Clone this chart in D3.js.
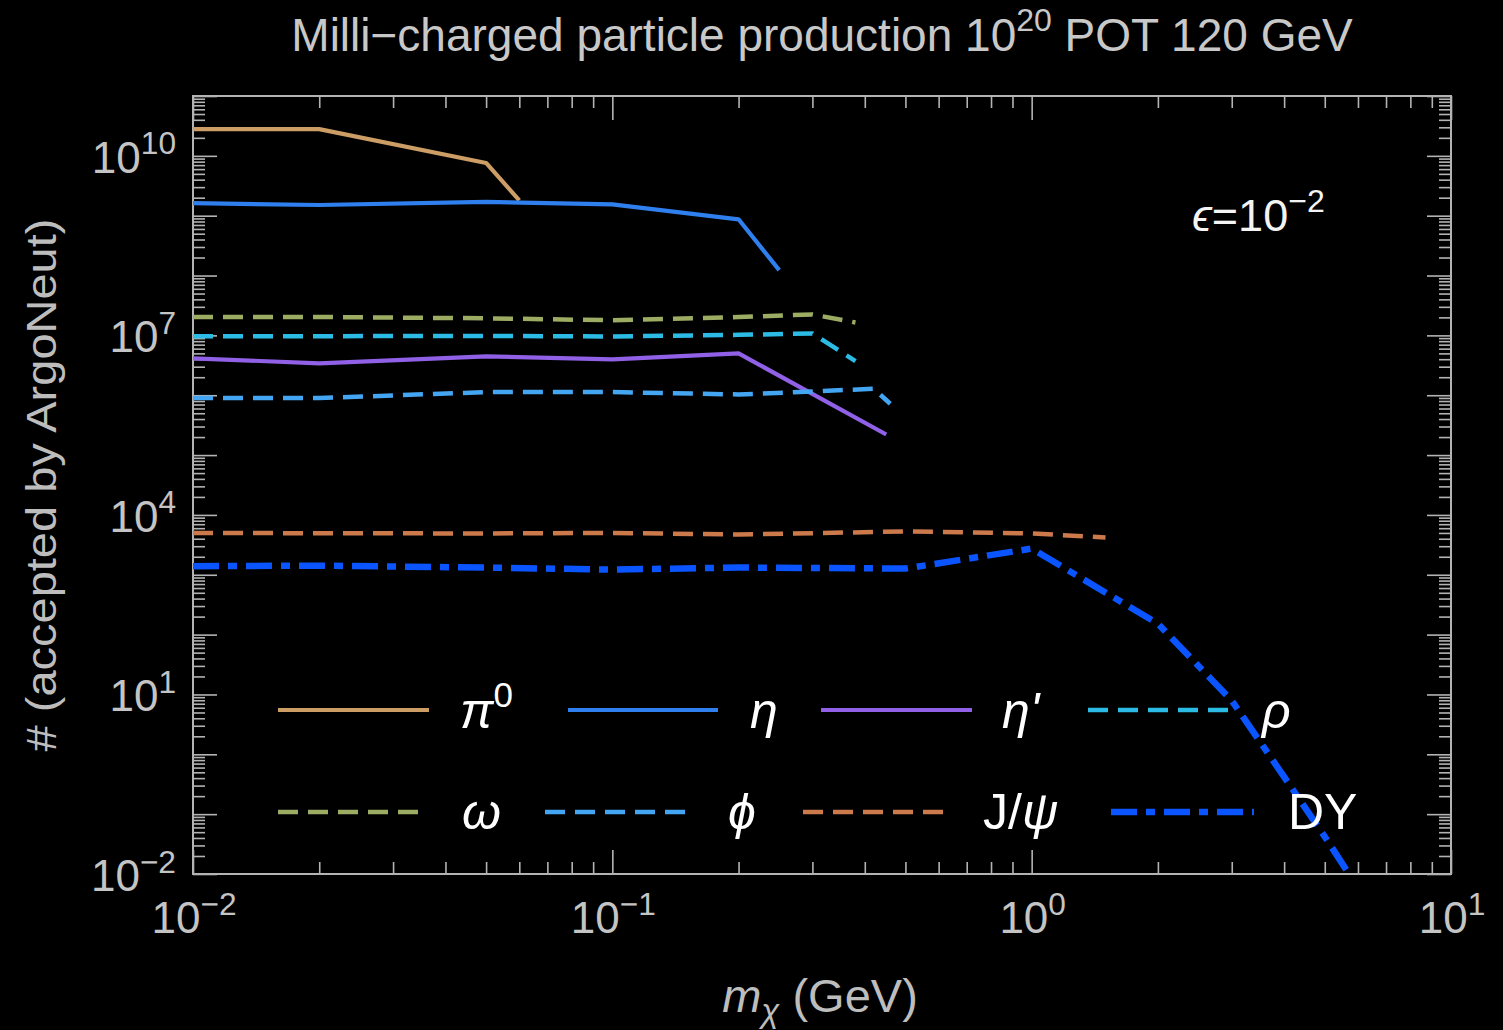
<!DOCTYPE html>
<html><head><meta charset="utf-8">
<script src="https://cdn.jsdelivr.net/npm/d3@7"></script>
<style>html,body{margin:0;background:#000;} svg{display:block}</style>
</head><body><svg id="chart" width="1503" height="1030"></svg>
<script>
// Accepted counts versus milli-charged particle mass (GeV), one pair of arrays per channel
const massPi0 = [0.01, 0.02, 0.05, 0.06];
const countPi0 = [2.8e10, 2.8e10, 7.6e9, 1.8e9];
const massEta = [0.01, 0.02, 0.05, 0.1, 0.2, 0.25];
const countEta = [1.62e9, 1.51e9, 1.7e9, 1.55e9, 8.7e8, 1.23e8];
const massEtaP = [0.01, 0.02, 0.05, 0.1, 0.2, 0.45];
const countEtaP = [4.14e6, 3.41e6, 4.47e6, 3.98e6, 5.0e6, 2.21e5];
const massRho = [0.01, 0.02, 0.05, 0.1, 0.2, 0.3, 0.38];
const countRho = [9.7e6, 9.7e6, 9.8e6, 9.6e6, 1.02e7, 1.08e7, 3.7e6];
const massOmega = [0.01, 0.02, 0.05, 0.1, 0.2, 0.3, 0.38];
const countOmega = [2.03e7, 2.03e7, 1.93e7, 1.79e7, 2.03e7, 2.24e7, 1.64e7];
const massPhi = [0.01, 0.02, 0.05, 0.1, 0.2, 0.3, 0.42, 0.46];
const countPhi = [8.95e5, 8.95e5, 1.13e6, 1.13e6, 1.03e6, 1.15e6, 1.29e6, 7.2e5];
const massJpsi = [0.01, 0.02, 0.05, 0.1, 0.2, 0.5, 1.0, 1.5];
const countJpsi = [5.0e3, 4.95e3, 4.9e3, 5.0e3, 4.7e3, 5.3e3, 4.9e3, 4.2e3];
const massDY = [0.01, 0.02, 0.05, 0.1, 0.2, 0.5, 1, 2, 3, 4, 5, 6];
const countDY = [1.39e3, 1.42e3, 1.32e3, 1.22e3, 1.32e3, 1.27e3, 2.74e3, 152, 7.9, 0.42, 0.042, 0.0059];

// Axis decades and labelled exponents
const xDecadeExps = [-2, -1, 0, 1];
const yDecadeExps = [-2, -1, 0, 1, 2, 3, 4, 5, 6, 7, 8, 9, 10, 11];
const yLabelExps = [-2, 1, 4, 7, 10];

// Line styles per channel
const styles = {
  pi0:   {color: "#cc9e66", width: 4.2, dash: null},
  eta:   {color: "#2f80ee", width: 4.2, dash: null},
  etap:  {color: "#9060e6", width: 4.2, dash: null},
  rho:   {color: "#2cbbe4", width: 4.5, dash: "20,10"},
  omega: {color: "#9cac62", width: 4.5, dash: "20,10"},
  phi:   {color: "#44a6f2", width: 4.5, dash: "20,10"},
  jpsi:  {color: "#cc7a4c", width: 4.5, dash: "20,10"},
  dy:    {color: "#0a55ff", width: 6.5, dash: "26,9,9,9"}
};

const series = [
  {key: "pi0",   mass: massPi0,   count: countPi0},
  {key: "eta",   mass: massEta,   count: countEta},
  {key: "etap",  mass: massEtaP,  count: countEtaP},
  {key: "rho",   mass: massRho,   count: countRho},
  {key: "omega", mass: massOmega, count: countOmega},
  {key: "phi",   mass: massPhi,   count: countPhi},
  {key: "jpsi",  mass: massJpsi,  count: countJpsi},
  {key: "dy",    mass: massDY,    count: countDY}
];

const W = 1503, H = 1030;
const L = 193, R = 1451, T = 96, B = 874;
const FONT = "'Liberation Sans', Arial, Helvetica, sans-serif";

const svg = d3.select("#chart");
svg.append("rect").attr("width", W).attr("height", H).attr("fill", "#000");

const x = d3.scaleLog().domain([0.01, 10]).range([L, R]);
const y = d3.scaleLog().domain([0.01, 1e11]).range([B, T]);

// tick values
const xMajor = xDecadeExps.map(e => Math.pow(10, e));
const xMinor = [];
xDecadeExps.slice(0, -1).forEach(e => { for (let k = 2; k <= 9; k++) xMinor.push(k * Math.pow(10, e)); });
const yMajor = yDecadeExps.map(e => Math.pow(10, e));
const yMinor = [];
yDecadeExps.slice(0, -1).forEach(e => { for (let k = 2; k <= 9; k++) yMinor.push(k * Math.pow(10, e)); });

const frameColor = "#b3b3b3";
function tickLayer(axisFn, scale, vals, len, transform) {
  svg.append("g").attr("transform", transform).attr("color", frameColor)
    .call(axisFn(scale).tickValues(vals).tickSizeInner(-len).tickSizeOuter(0).tickFormat(""))
    .call(g => g.select(".domain").remove())
    .call(g => g.selectAll("line").attr("stroke-width", 1.6));
}
[[d3.axisBottom, x, `translate(0,${B})`], [d3.axisTop, x, `translate(0,${T})`],
 [d3.axisLeft, y, `translate(${L},0)`], [d3.axisRight, y, `translate(${R},0)`]].forEach(([fn, sc, tr]) => {
  const isX = sc === x;
  tickLayer(fn, sc, isX ? xMinor : yMinor, 12, tr);
  tickLayer(fn, sc, isX ? xMajor : yMajor, 24, tr);
});

svg.append("rect").attr("x", L).attr("y", T).attr("width", R - L).attr("height", B - T)
  .attr("fill", "none").attr("stroke", frameColor).attr("stroke-width", 2);

// power-of-ten label with a superscript exponent
function powerLabel(g, e, size, anchor) {
  const t = g.append("text").attr("font-family", FONT).attr("font-size", size)
    .attr("fill", "#c4c4c4").attr("text-anchor", anchor);
  t.append("tspan").text("10");
  t.append("tspan").attr("font-size", size * 0.72).attr("dy", -size * 0.42)
    .text(e < 0 ? "\u2212" + Math.abs(e) : String(e));
  return t;
}
xDecadeExps.forEach(e => {
  const g = svg.append("g").attr("transform", `translate(${x(Math.pow(10, e)) + 1},933)`);
  powerLabel(g, e, 44, "middle");
});
yLabelExps.forEach(e => {
  const g = svg.append("g").attr("transform", `translate(176,${y(Math.pow(10, e)) + 17})`);
  powerLabel(g, e, 44, "end");
});

// data lines
const clip = svg.append("clipPath").attr("id", "plotClip");
clip.append("rect").attr("x", L).attr("y", T).attr("width", R - L).attr("height", B - T);
const line = d3.line().x(d => x(d[0])).y(d => y(d[1]));
const plot = svg.append("g").attr("clip-path", "url(#plotClip)");
series.forEach(s => {
  const st = styles[s.key];
  plot.append("path")
    .datum(s.mass.map((m, i) => [m, s.count[i]]))
    .attr("d", line).attr("fill", "none")
    .attr("stroke", st.color).attr("stroke-width", st.width)
    .attr("stroke-dasharray", st.dash).attr("stroke-linejoin", "round");
});

// title
const title = svg.append("text").attr("x", 822).attr("y", 51)
  .attr("font-family", FONT).attr("font-size", 46).attr("fill", "#c8c8c8")
  .attr("text-anchor", "middle");
title.append("tspan").text("Milli\u2212charged particle production 10");
title.append("tspan").attr("font-size", 32).attr("dy", -20).text("20");
title.append("tspan").attr("dy", 20).text(" POT 120 GeV");

// axis titles
svg.append("g").attr("transform", `translate(56,485) rotate(-90) scale(1,0.9)`)
  .append("text").attr("font-family", FONT).attr("font-size", 47).attr("fill", "#bdbdbd")
  .attr("text-anchor", "middle").text("# (accepted by ArgoNeut)");

const xt = svg.append("text").attr("x", 820).attr("y", 1012)
  .attr("font-family", FONT).attr("font-size", 47).attr("fill", "#bdbdbd")
  .attr("text-anchor", "middle");
xt.append("tspan").attr("font-style", "italic").text("m");
xt.append("tspan").attr("font-style", "italic").attr("font-size", 33).attr("dy", 10).text("\u03c7");
xt.append("tspan").attr("dy", -10).text(" (GeV)");

// coupling annotation
const ann = svg.append("text").attr("x", 1192).attr("y", 231)
  .attr("font-family", FONT).attr("font-size", 45).attr("fill", "#f4f4f4");
ann.append("tspan").attr("font-style", "italic").text("\u03f5");
ann.append("tspan").text("=10");
ann.append("tspan").attr("font-size", 32).attr("dy", -19).text("\u22122");

// legend
const legendItems = [
  {key: "pi0",   row: 0, x0: 278, x1: 429, lx: 460},
  {key: "eta",   row: 0, x0: 568, x1: 718, lx: 750},
  {key: "etap",  row: 0, x0: 821, x1: 972, lx: 1002},
  {key: "rho",   row: 0, x0: 1088, x1: 1234, lx: 1262},
  {key: "omega", row: 1, x0: 278, x1: 424, lx: 462},
  {key: "phi",   row: 1, x0: 545, x1: 690, lx: 728},
  {key: "jpsi",  row: 1, x0: 803, x1: 947, lx: 983},
  {key: "dy",    row: 1, x0: 1111, x1: 1254, lx: 1288}
];
const rowY = [710, 812];
const rowBase = [728, 829];
const legend = svg.append("g");
legendItems.forEach(it => {
  const st = styles[it.key];
  legend.append("line").attr("x1", it.x0).attr("x2", it.x1)
    .attr("y1", rowY[it.row]).attr("y2", rowY[it.row])
    .attr("stroke", st.color).attr("stroke-width", st.width).attr("stroke-dasharray", st.dash);
  const t = legend.append("text").attr("x", it.lx).attr("y", rowBase[it.row])
    .attr("font-family", FONT).attr("font-size", 50).attr("fill", "#ffffff");
  if (it.key === "pi0") {
    t.append("tspan").attr("font-style", "italic").text("\u03c0");
    t.append("tspan").attr("font-size", 35).attr("dy", -21).text("0");
  } else if (it.key === "eta") {
    t.append("tspan").attr("font-style", "italic").text("\u03b7");
  } else if (it.key === "etap") {
    t.append("tspan").attr("font-style", "italic").text("\u03b7'");
  } else if (it.key === "rho") {
    t.append("tspan").attr("font-style", "italic").text("\u03c1");
  } else if (it.key === "omega") {
    t.append("tspan").attr("font-style", "italic").text("\u03c9");
  } else if (it.key === "phi") {
    t.append("tspan").attr("font-style", "italic").text("\u03d5");
  } else if (it.key === "jpsi") {
    t.append("tspan").text("J/");
    t.append("tspan").attr("font-style", "italic").text("\u03c8");
  } else {
    t.append("tspan").text("DY");
  }
});
</script></body></html>
